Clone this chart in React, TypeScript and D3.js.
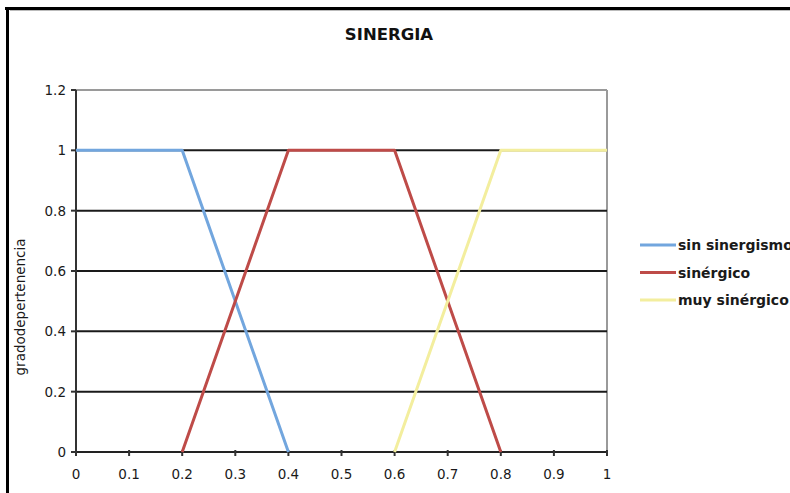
import React from "react";
import * as d3 from "d3";

const xTicks = [0, 0.1, 0.2, 0.3, 0.4, 0.5, 0.6, 0.7, 0.8, 0.9, 1];
const yTicks = [0, 0.2, 0.4, 0.6, 0.8, 1, 1.2];
const seriesNames = ["sin sinergismo", "sinérgico", "muy sinérgico"];
const sinSinergismo = [
  { x: 0, y: 1 },
  { x: 0.2, y: 1 },
  { x: 0.4, y: 0 },
];
const sinergico = [
  { x: 0.2, y: 0 },
  { x: 0.4, y: 1 },
  { x: 0.6, y: 1 },
  { x: 0.8, y: 0 },
];
const muySinergico = [
  { x: 0.6, y: 0 },
  { x: 0.8, y: 1 },
  { x: 1, y: 1 },
];
const colors = ["#72A6DE", "#BE4B48", "#F3EE9E"];

export default function App() {
  const W = 790,
    H = 493;
  const left = 76,
    right = 607,
    top = 90,
    bottom = 452;
  const x = d3.scaleLinear().domain([0, 1]).range([left, right]);
  const y = d3.scaleLinear().domain([0, 1.2]).range([bottom, top]);
  const line = d3
    .line<{ x: number; y: number }>()
    .x((d) => x(d.x))
    .y((d) => y(d.y));
  const data = [sinSinergismo, sinergico, muySinergico];
  const font = "'DejaVu Sans', Verdana, sans-serif";

  return (
    <svg
      width={W}
      height={H}
      style={{ position: "absolute", left: 0, top: 0, background: "#fff" }}
      fontFamily={font}
    >
      <rect x={0} y={0} width={W} height={H} fill="#fff" />
      {/* outer frame */}
      <line x1={5} x2={W} y1={8.5} y2={8.5} stroke="#000" strokeWidth={3} />
      <line x1={10} x2={W} y1={10.5} y2={10.5} stroke="#bbb" strokeWidth={1} />
      <line x1={7.5} x2={7.5} y1={7} y2={H} stroke="#000" strokeWidth={3} />

      <text
        x={389}
        y={40}
        textAnchor="middle"
        fontSize={16.5}
        fontWeight="bold"
        fill="#111"
      >
        SINERGIA
      </text>

      {/* plot border gray */}
      <line x1={left} x2={right} y1={y(1.2)} y2={y(1.2)} stroke="#9a9a9a" strokeWidth={2} />
      <line x1={right} x2={right} y1={y(1.2)} y2={y(0)} stroke="#9a9a9a" strokeWidth={2} />

      {/* gridlines */}
      {yTicks
        .filter((t) => t > 0 && t < 1.2)
        .map((t) => (
          <line
            key={"g" + t}
            x1={left}
            x2={right}
            y1={y(t)}
            y2={y(t)}
            stroke="#1a1a1a"
            strokeWidth={2}
          />
        ))}

      {/* axes */}
      <line x1={left} x2={left} y1={y(1.2)} y2={y(0)} stroke="#333" strokeWidth={2} />
      <line x1={left} x2={right} y1={y(0)} y2={y(0)} stroke="#222" strokeWidth={2} />
      {yTicks.map((t) => (
        <g key={"yt" + t}>
          <line x1={left - 5} x2={left} y1={y(t)} y2={y(t)} stroke="#333" strokeWidth={2} />
          <text
            x={left - 10}
            y={y(t) + 5}
            textAnchor="end"
            fontSize={13.5}
            fill="#1a1a1a"
          >
            {String(t)}
          </text>
        </g>
      ))}
      {xTicks.map((t) => (
        <g key={"xt" + t}>
          <line x1={x(t)} x2={x(t)} y1={y(0) - 2} y2={y(0) + 4} stroke="#333" strokeWidth={2} />
          <text x={x(t)} y={y(0) + 27} textAnchor="middle" fontSize={13.5} fill="#1a1a1a">
            {String(t)}
          </text>
        </g>
      ))}

      <text
        transform={`translate(25, 307) rotate(-90)`}
        textAnchor="middle"
        fontSize={13.5}
        fill="#1a1a1a"
      >
        gradodepertenencia
      </text>

      {/* series */}
      {data.map((d, i) => (
        <path
          key={"s" + i}
          d={line(d) || ""}
          fill="none"
          stroke={colors[i]}
          strokeWidth={3}
          strokeLinejoin="round"
        />
      ))}

      {/* legend */}
      {seriesNames.map((n, i) => (
        <g key={"l" + i}>
          <line
            x1={640}
            x2={676}
            y1={245 + i * 27.5}
            y2={245 + i * 27.5}
            stroke={colors[i]}
            strokeWidth={3}
          />
          <text x={678} y={250 + i * 27.5} fontSize={14} fontWeight={600} fill="#1a1a1a">
            {n}
          </text>
        </g>
      ))}
    </svg>
  );
}
